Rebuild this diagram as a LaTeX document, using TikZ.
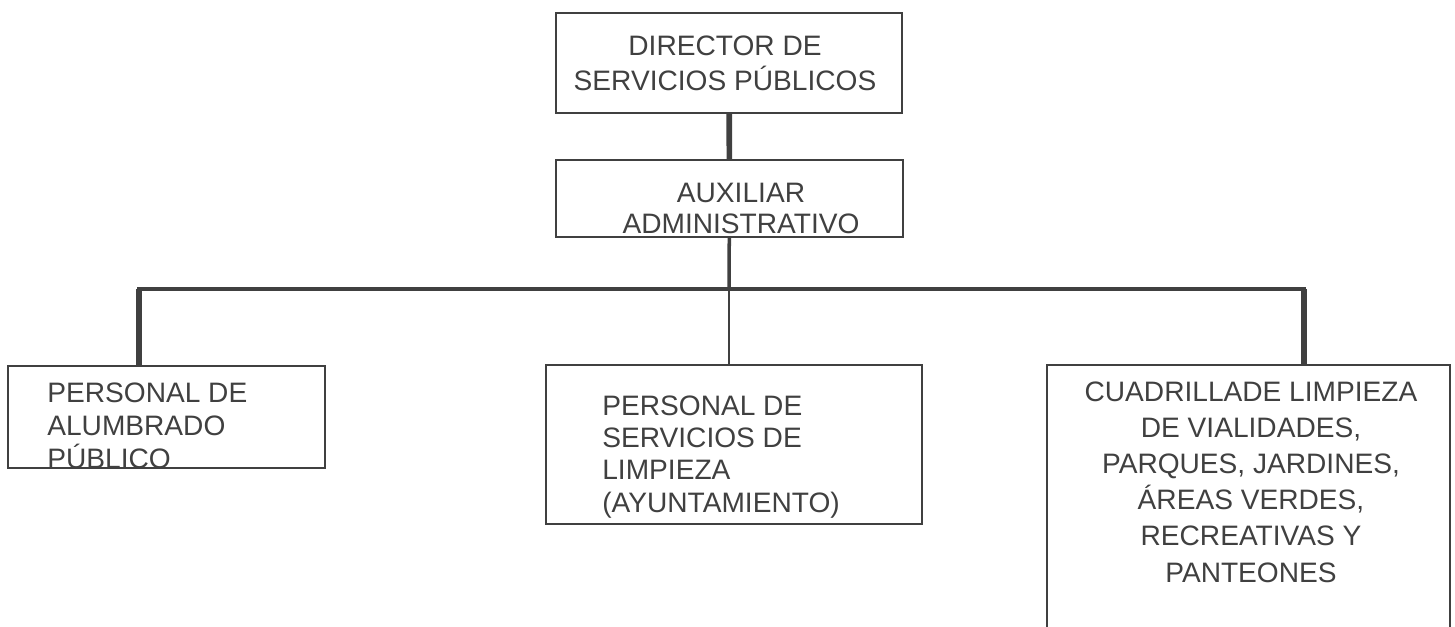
\documentclass[tikz,border=0pt]{standalone}
\usepackage{fontspec}
\setmainfont{Liberation Sans}
\definecolor{ink}{gray}{0.25}

\tikzset{
  puesto/.style={draw=ink, line width=1.1pt, inner sep=0pt},
  texto/.style={text=ink, inner sep=0pt, font=\fontsize{16}{#1}\selectfont},
  texto/.default=20.5pt,
  tronco/.style={draw=ink, line width=3.2pt},
  rama/.style={draw=ink, line width=#1},
  rama/.default=2.3pt
}

\begin{document}
\begin{tikzpicture}[x=0.02cm, y=-0.02cm]
  \clip (0,0) rectangle (1455,626);

  % boxes
  \node[puesto, minimum width=6.92cm, minimum height=2cm] (director) at (729,63) {};
  \node[puesto, minimum width=6.94cm, minimum height=1.54cm] (auxiliar) at (729.5,198.5) {};
  \node[puesto, minimum width=6.34cm, minimum height=2.04cm] (alumbrado) at (166.5,417) {};
  \node[puesto, minimum width=7.52cm, minimum height=3.18cm] (limpieza) at (734,444.5) {};
  \node[puesto, minimum width=8.06cm, minimum height=7cm] (cuadrilla) at (1248.5,540) {};

  % texts (base = last line)
  \node[texto=19.8pt, align=center, anchor=base] (director-t) at (725,90)
    {DIRECTOR DE\\SERVICIOS PÚBLICOS};
  \node[texto=17.6pt, align=center, anchor=base] (auxiliar-t) at (741,233)
    {AUXILIAR\\ADMINISTRATIVO};
  \node[texto=18.7pt, align=left, anchor=base west] (alumbrado-t) at (47,468)
    {PERSONAL DE\\ALUMBRADO\\PÚBLICO};
  \node[texto=18.4pt, align=left, anchor=base west] (limpieza-t) at (602,512)
    {PERSONAL DE\\SERVICIOS DE\\LIMPIEZA\\(AYUNTAMIENTO)};
  \node[texto=20.6pt, align=center, anchor=base] (cuadrilla-t) at (1251,582)
    {CUADRILLADE LIMPIEZA\\DE VIALIDADES,\\PARQUES, JARDINES,\\ÁREAS VERDES,\\RECREATIVAS Y\\PANTEONES};

  % connectors
  \coordinate (bus) at (729,289);
  \coordinate (izq) at (139,289);
  \coordinate (der) at (1304,289);
  \draw[tronco] (director) -- (auxiliar);
  \draw[rama=2pt] (auxiliar) -- (bus);
  \draw[rama, line cap=rect] (izq) -- (der);
  \draw[tronco] (izq) -- (izq |- alumbrado.north);
  \draw[tronco] (der) -- (der |- cuadrilla.north);
  \draw[rama=1.4pt] (bus) -- (bus |- limpieza.north);
\end{tikzpicture}
\end{document}
